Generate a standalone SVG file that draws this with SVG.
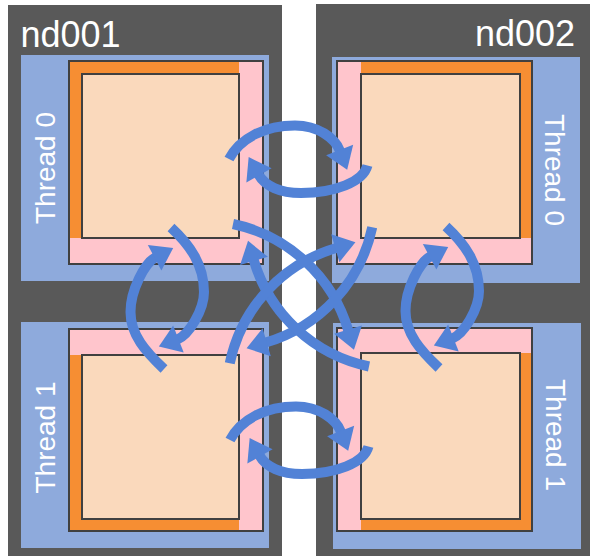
<svg xmlns="http://www.w3.org/2000/svg" width="598" height="556" viewBox="0 0 598 556">
<defs>
<style>
.host{fill:#595959}
.panel{fill:#8EAADC}
.pink{fill:#FFC5CC}
.orange{fill:#F68E33}
.core{fill:#FAD9BC;stroke:#404040;stroke-width:2}
.frame{fill:none;stroke:#404040;stroke-width:2}
.host-label{font-family:"Liberation Sans",Arial,sans-serif;font-size:36px;fill:#fff}
.thread{font-family:"Liberation Sans",Arial,sans-serif;font-size:28px;fill:#fff;text-anchor:middle}
.arrow{fill:none;stroke:#5282D6;stroke-width:10;marker-end:url(#ah)}
</style>
<marker id="ah" markerUnits="userSpaceOnUse" viewBox="0 0 21 29" markerWidth="21" markerHeight="29" refX="1" refY="14.5" orient="auto" overflow="visible"><path d="M0,0 L21,14.5 L0,29 Z" fill="#5282D6"/></marker>
</defs>
<rect width="598" height="556" fill="#fff"/>

<g id="nd001">
<rect class="host" x="8" y="5" width="274" height="551"/>
<text class="host-label" x="20.5" y="46.5">nd001</text>
</g>
<g id="nd002">
<rect class="host" x="316" y="4" width="274" height="552"/>
<text class="host-label" x="575" y="45.5" text-anchor="end">nd002</text>
</g>

<g id="nd001-thread0">
<rect class="panel" x="21" y="55" width="248" height="226"/>
<text class="thread" transform="translate(55,168) rotate(-90)">Thread 0</text>
<rect class="pink" x="69" y="61" width="194" height="203"/>
<rect class="orange" x="69" y="61" width="170" height="177"/>
<rect class="core" x="82" y="74" width="157" height="164"/>
<rect class="frame" x="69" y="61" width="194" height="203"/>
</g>

<g id="nd002-thread0">
<rect class="panel" x="332" y="57" width="248" height="226"/>
<text class="thread" transform="translate(545,170) rotate(90)">Thread 0</text>
<rect class="pink" x="337" y="61" width="195" height="203"/>
<rect class="orange" x="361" y="61" width="171" height="177"/>
<rect class="core" x="361" y="74" width="159" height="164"/>
<rect class="frame" x="337" y="61" width="195" height="203"/>
</g>

<g id="nd001-thread1">
<rect class="panel" x="21" y="322" width="248" height="226"/>
<text class="thread" transform="translate(55,437.5) rotate(-90)">Thread 1</text>
<rect class="pink" x="69" y="329" width="194" height="202"/>
<rect class="orange" x="69" y="355" width="170" height="176"/>
<rect class="core" x="82" y="355" width="157" height="164"/>
<rect class="frame" x="69" y="329" width="194" height="202"/>
</g>

<g id="nd002-thread1">
<rect class="panel" x="333" y="323" width="248" height="226"/>
<text class="thread" transform="translate(546,435) rotate(90)">Thread 1</text>
<rect class="pink" x="337" y="328" width="195" height="203"/>
<rect class="orange" x="361" y="353" width="171" height="178"/>
<rect class="core" x="361" y="353" width="159" height="166"/>
<rect class="frame" x="337" y="328" width="195" height="203"/>
</g>

<g id="connectors">
<path class="arrow" d="M229,159 C240,138 265,125.5 295,125.5 C318,125.5 335,138 340,151"/>
<path class="arrow" d="M367.5,165.5 C363,182 335,193 301,193 C280,193 265,186 258.5,174.5"/>
<path class="arrow" d="M230,440 C241,419 266,406.5 296,406.5 C319,406.5 336,419 341,432"/>
<path class="arrow" d="M368.5,446.5 C364,463 336,474 302,474 C281,474 266,467 259.5,455.5"/>
<path class="arrow" d="M171,227.5 C190,245 204,265 204,292 C204,310 188.7,334.9 177.5,339.3"/>
<path class="arrow" d="M164,369 C146,352 130.5,335 130.5,312 C130.5,290 144.9,262.9 155.5,257.3"/>
<path class="arrow" d="M446,226.5 C465,244 479,264 479,291 C479,309 463.7,333.9 452.5,338.3"/>
<path class="arrow" d="M439,368 C421,351 405.5,334 405.5,311 C405.5,289 419.9,261.9 430.5,256.3"/>
<path class="arrow" d="M233,224 A153,153 0 0 1 348.3,330.5"/>
<path class="arrow" d="M233,224 A153,153 0 0 1 348.3,330.5" transform="rotate(90 301 295.25)"/>
<path class="arrow" d="M233,224 A153,153 0 0 1 348.3,330.5" transform="rotate(180 301 295.25)"/>
<path class="arrow" d="M233,224 A153,153 0 0 1 348.3,330.5" transform="rotate(270 301 295.25)"/>
</g>
</svg>
